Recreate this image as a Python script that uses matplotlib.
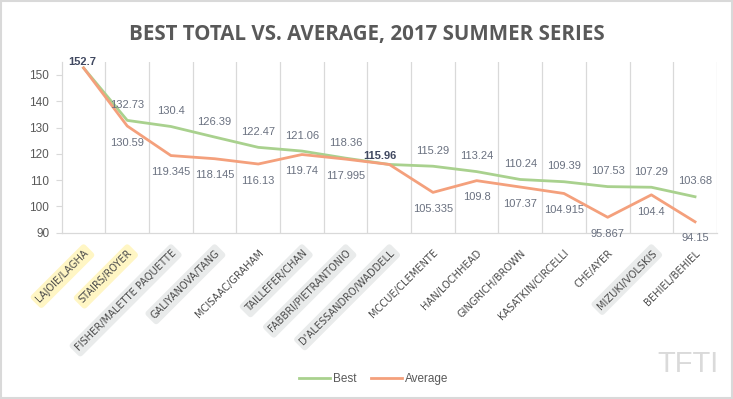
import matplotlib
matplotlib.use("Agg")
import matplotlib.pyplot as plt
from matplotlib.lines import Line2D

categories = ["LAJOIE/LAGHA", "STAIRS/ROYER", "FISHER/MALETTE PAQUETTE", "GALIYANOVA/TANG",
              "MCISAAC/GRAHAM", "TAILLEFER/CHAN", "FABBRI/PIETRANTONIO", "D'ALESSANDRO/WADDELL",
              "MCCUE/CLEMENTE", "HAN/LOCHHEAD", "GINGRICH/BROWN", "KASATKIN/CIRCELLI",
              "CHE/AYER", "MIZUKI/VOLSKIS", "BEHIEL/BEHIEL"]
best = [152.7, 132.73, 130.4, 126.39, 122.47, 121.06, 118.36, 115.96, 115.29, 113.24,
        110.24, 109.39, 107.53, 107.29, 103.68]
average = [152.7, 130.59, 119.345, 118.145, 116.13, 119.74, 117.995, 115.96, 105.335, 109.8,
           107.37, 104.915, 95.867, 104.4, 94.15]
best_labels = ["152.7", "132.73", "130.4", "126.39", "122.47", "121.06", "118.36", "115.96",
               "115.29", "113.24", "110.24", "109.39", "107.53", "107.29", "103.68"]
avg_labels = ["", "130.59", "119.345", "118.145", "116.13", "119.74", "117.995", "",
              "105.335", "109.8", "107.37", "104.915", "95.867", "104.4", "94.15"]
highlight = ["yellow", "yellow", "gray", "gray", None, "gray", "gray", "gray",
             None, None, None, None, None, "gray", None]
yticks = [90, 100, 110, 120, 130, 140, 150]

GREEN = "#A9D18E"
ORANGE = "#F4A07C"
LABEL = "#6A7180"
GRID = "#D9D9D9"
NUMFONT = ['Liberation Sans', 'DejaVu Sans']

plt.rcParams['font.family'] = ['DejaVu Sans']

fig = plt.figure(figsize=(7.33, 3.99), dpi=100)
ax = fig.add_axes([0.0842, 0.4168, 0.978 - 0.0842, 0.845 - 0.4168])

x = list(range(len(categories)))
ax.plot(x, best, color=GREEN, lw=2.0, zorder=3, solid_joinstyle='round')
ax.plot(x, average, color=ORANGE, lw=2.0, zorder=4, solid_joinstyle='round')

ax.set_xlim(-0.5, len(categories) - 0.5)
ax.set_ylim(90, 155)
ax.set_yticks(yticks)
ax.set_yticklabels([str(v) for v in yticks], fontsize=8.5, color="#595959", family=NUMFONT)
ax.tick_params(axis='y', length=4, width=0.8, pad=5, color=GRID)

# vertical category gridlines
for k in range(1, len(categories) + 1):
    ax.axvline(k - 0.5, color=GRID, lw=0.9, zorder=1)

for side in ['top', 'right']:
    ax.spines[side].set_visible(False)
for side in ['left', 'bottom']:
    ax.spines[side].set_color(GRID)
    ax.spines[side].set_linewidth(0.9)

# data labels
for i in x:
    if i == 0:
        ax.annotate(best_labels[i], (i, best[i]), xytext=(-1, 4.5), textcoords='offset points',
                    ha='center', va='center', fontsize=8, color="#404860", fontweight='bold',
                    family=NUMFONT, zorder=6)
        continue
    if i == 7:
        ax.annotate(best_labels[i], (i, best[i]), xytext=(-6.5, 6), textcoords='offset points',
                    ha='center', va='center', fontsize=8, color="#404860", fontweight='bold',
                    family=NUMFONT, zorder=6)
        continue
    ax.annotate(best_labels[i], (i, best[i]), xytext=(0, 11), textcoords='offset points',
                ha='center', va='center', fontsize=8, color=LABEL, family=NUMFONT, zorder=6)
    ax.annotate(avg_labels[i], (i, average[i]), xytext=(0, -12), textcoords='offset points',
                ha='center', va='center', fontsize=8, color=LABEL, family=NUMFONT, zorder=6)

# x tick labels
ax.set_xticks(x)
ax.set_xticklabels([])
ax.tick_params(axis='x', length=0)
for i, name in enumerate(categories):
    bbox = None
    if highlight[i] == "yellow":
        bbox = dict(boxstyle='round,pad=0.35', facecolor='#FFF6C4', edgecolor='none')
    elif highlight[i] == "gray":
        bbox = dict(boxstyle='round,pad=0.35', facecolor='#E9EBEB', edgecolor='none')
    ax.annotate(name, (i, 90), xytext=(0, -11), textcoords='offset points',
                rotation=45, ha='right', va='top', rotation_mode='anchor',
                fontsize=7.1, color="#4A4A4A", bbox=bbox, annotation_clip=False)

fig.suptitle("BEST TOTAL VS. AVERAGE, 2017 SUMMER SERIES", x=0.5, y=0.94,
             fontsize=14.8, fontweight='bold', color="#595959", family='Open Sans')

handles = [Line2D([], [], color=GREEN, lw=2), Line2D([], [], color=ORANGE, lw=2)]
fig.legend(handles, ["Best", "Average"], loc='center', bbox_to_anchor=(0.51, 0.05),
           ncol=2, frameon=False, handlelength=2.6, columnspacing=1.2,
           handletextpad=0.3, labelcolor="#595959",
           prop={'family': NUMFONT, 'size': 8.5})

fig.text(0.938, 0.088, "TFTI", fontsize=21, color="#DADADA", ha='center', va='center',
         family='Liberation Sans')

# figure border
fig.patches.append(plt.Rectangle((0.001, 0.002), 0.997, 0.995, transform=fig.transFigure,
                                 fill=False, edgecolor="#D9D9D9", lw=1.5))

fig.savefig("out.png", dpi=100)
